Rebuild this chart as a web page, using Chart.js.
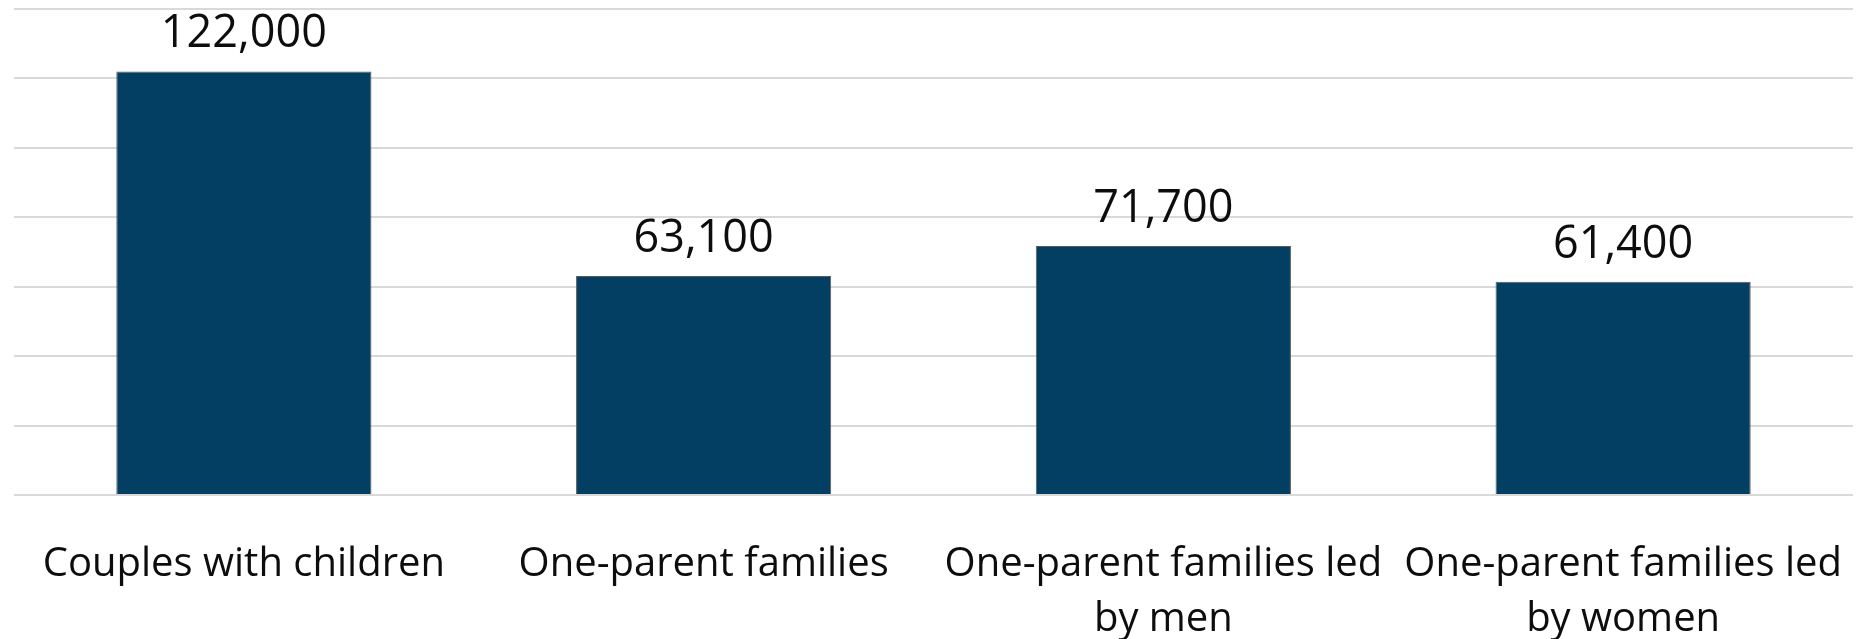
<!DOCTYPE html>
<html>
<head>
<meta charset="utf-8">
<script src="https://cdn.jsdelivr.net/npm/chart.js@4/dist/chart.umd.min.js"></script>
<style>
  html, body { margin: 0; padding: 0; background: #ffffff; }
  #wrap { position: relative; width: 1860px; height: 639px; }
</style>
</head>
<body>
<div id="wrap"><canvas id="c" width="1860" height="639"></canvas></div>
<script>
const categories = [
  ["Couples with children"],
  ["One-parent families"],
  ["One-parent families led", "by men"],
  ["One-parent families led", "by women"]
];
const values = [122000, 63100, 71700, 61400];
const yMax = 140000;
const yStep = 20000;

const fmt = v => v.toLocaleString('en-US');

const valueLabels = {
  id: 'valueLabels',
  afterDatasetsDraw(chart) {
    const ctx = chart.ctx;
    const meta = chart.getDatasetMeta(0);
    ctx.save();
    ctx.font = '45px "Open Sans"';
    ctx.fillStyle = '#0d0d0d';
    ctx.textAlign = 'center';
    ctx.textBaseline = 'alphabetic';
    meta.data.forEach((bar, i) => {
      ctx.fillText(fmt(values[i]), bar.x, bar.y - 24);
    });
    ctx.restore();
  }
};

new Chart(document.getElementById('c'), {
  type: 'bar',
  data: {
    labels: categories,
    datasets: [{
      data: values,
      backgroundColor: '#023f62',
      borderColor: '#5a5a5a',
      borderWidth: 1,
      barPercentage: 0.555,
      categoryPercentage: 1
    }]
  },
  options: {
    responsive: false,
    animation: false,
    layout: { padding: { left: 14, right: 7, top: 9, bottom: 0 } },
    plugins: { legend: { display: false }, tooltip: { enabled: false } },
    scales: {
      x: {
        grid: { display: false },
        border: { display: false },
        ticks: {
          color: '#0d0d0d',
          font: { family: '"Open Sans"', size: 40, lineHeight: 1.375 },
          padding: 34,
          maxRotation: 0,
          autoSkip: false
        },
        afterFit(scale) {
          scale.height = 144;
          scale.paddingLeft = 0;
          scale.paddingRight = 0;
        }
      },
      y: {
        min: 0,
        max: yMax,
        ticks: { display: false, stepSize: yStep },
        border: { display: false },
        grid: { color: '#d9d9d9', lineWidth: 2, drawTicks: false },
        afterFit(scale) { scale.width = 0; }
      }
    }
  },
  plugins: [valueLabels]
});
</script>
</body>
</html>
